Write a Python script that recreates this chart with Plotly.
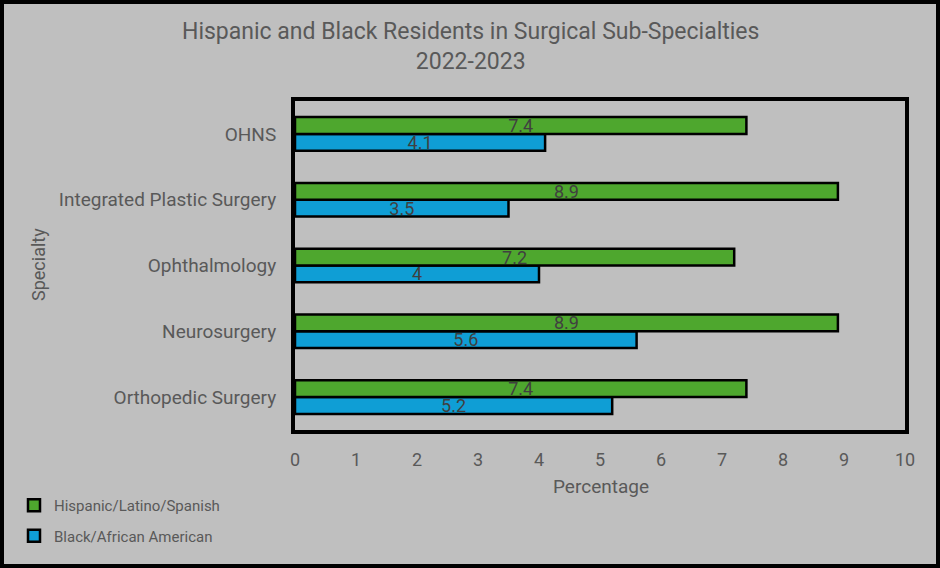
import plotly.graph_objects as go

categories = ["Orthopedic Surgery", "Neurosurgery", "Ophthalmology",
              "Integrated Plastic Surgery", "OHNS"]
hispanic = [7.4, 8.9, 7.2, 8.9, 7.4]
black = [5.2, 5.6, 4, 3.5, 4.1]
x_ticks = [0, 1, 2, 3, 4, 5, 6, 7, 8, 9, 10]

W, H = 940, 568
L, R, T, B = 295, 35, 101, 138
pw, ph = W - L - R, H - T - B

FONT = "Roboto, Arial, sans-serif"
GREY = "#595959"
BG = "#BFBFBF"

fig = go.Figure()
fig.add_trace(go.Bar(
    y=categories, x=black, orientation="h", name="Black/African American",
    marker=dict(color="#0F9ED5", line=dict(color="black", width=2.5)),
    text=[str(v) for v in black], textposition="inside", insidetextanchor="middle",
    constraintext="none", textangle=0, legendrank=2, legendgroup="b",
    textfont=dict(color="#404040", size=18, family=FONT)))
fig.add_trace(go.Bar(
    y=categories, x=hispanic, orientation="h", name="Hispanic/Latino/Spanish",
    marker=dict(color="#4EA72E", line=dict(color="black", width=2.5)),
    text=[str(v) for v in hispanic], textposition="inside", insidetextanchor="middle",
    constraintext="none", textangle=0, legendrank=1, legendgroup="h",
    textfont=dict(color="#404040", size=18, family=FONT)))

fig.update_layout(
    width=W, height=H, margin=dict(l=L, r=R, t=T, b=B, autoexpand=False),
    paper_bgcolor=BG, plot_bgcolor=BG,
    barmode="group", bargap=0.49, bargroupgap=0,
    font=dict(family=FONT, color=GREY),
    showlegend=True,
    legend=dict(x=(14 - L) / pw, y=(H - B - 489) / ph, xanchor="left", yanchor="top",
                orientation="v", traceorder="grouped", tracegroupgap=8,
                font=dict(size=15, color=GREY, family=FONT), bgcolor="rgba(0,0,0,0)",
                itemwidth=30),
    xaxis=dict(range=[0, 10], tickvals=x_ticks, showgrid=False, zeroline=False,
               showline=True, mirror=True, linecolor="black", linewidth=4,
               tickfont=dict(size=18, color=GREY), ticklabelstandoff=10, ticks=""),
    yaxis=dict(showgrid=False, zeroline=False, showline=True, mirror=True,
               linecolor="black", linewidth=4, tickfont=dict(size=19, color=GREY),
               ticklabelstandoff=11, ticks=""),
    annotations=[
        dict(text="Hispanic and Black Residents in Surgical Sub-Specialties<br>2022-2023",
             xref="paper", yref="paper", x=(470 - L) / pw, y=(H - B - 47) / ph,
             xanchor="center", yanchor="middle", showarrow=False,
             font=dict(size=23, color=GREY, family=FONT)),
        dict(text="Percentage", xref="paper", yref="paper", x=(601 - L) / pw,
             y=(H - B - 486) / ph, xanchor="center", yanchor="middle", showarrow=False,
             font=dict(size=19, color=GREY, family=FONT)),
        dict(text="Specialty", xref="paper", yref="paper", x=(38 - L) / pw,
             y=(H - B - 265) / ph, xanchor="center", yanchor="middle", showarrow=False,
             textangle=-90, font=dict(size=18, color=GREY, family=FONT)),
    ],
    shapes=[dict(type="rect", xref="paper", yref="paper",
                 x0=(2 - L) / pw, x1=(W - 2 - L) / pw,
                 y0=(H - B - (H - 2)) / ph, y1=(H - B - 2) / ph,
                 line=dict(color="black", width=4), fillcolor="rgba(0,0,0,0)",
                 layer="above")],
)

fig.write_html("out.html")
